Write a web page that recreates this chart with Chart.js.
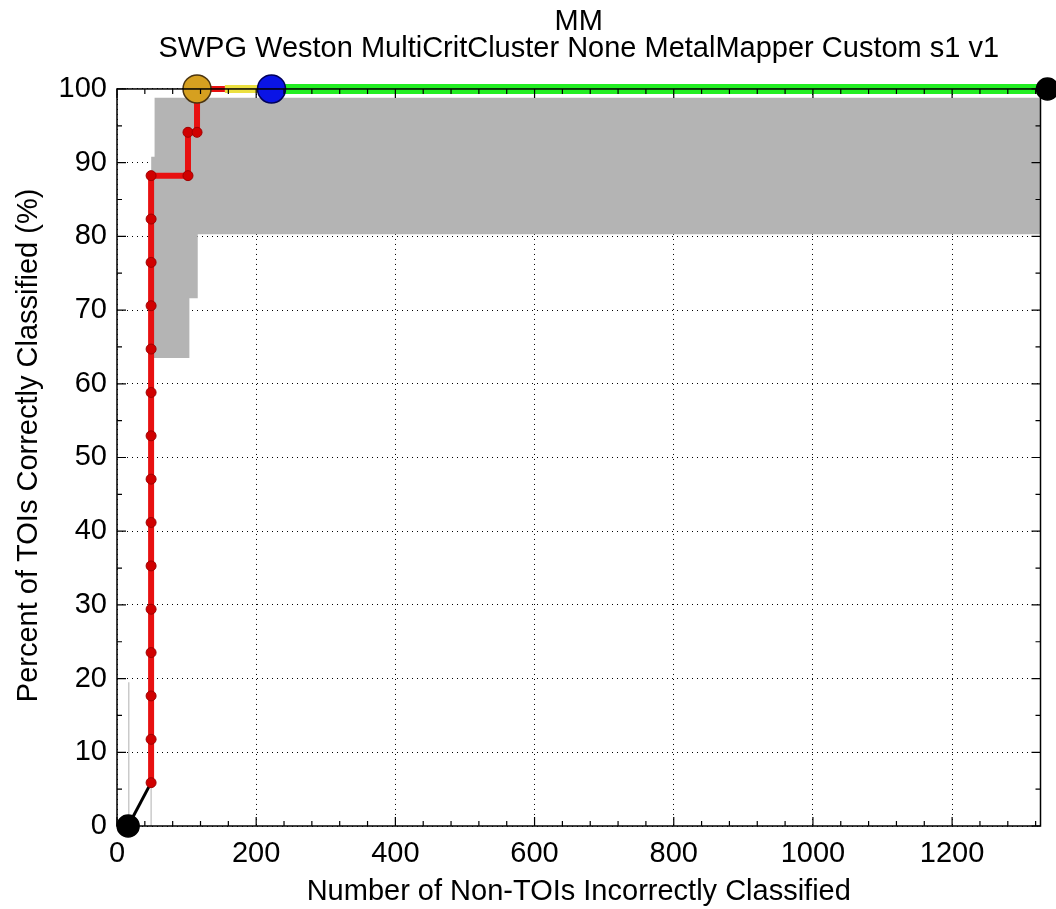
<!DOCTYPE html>
<html>
<head>
<meta charset="utf-8">
<script src="https://cdn.jsdelivr.net/npm/chart.js@4.4.0/dist/chart.umd.min.js"></script>
<style>
  body { margin: 0; background: #fff; }
  #graficoRoc { display: block; }
</style>
</head>
<body>
<canvas id="graficoRoc" width="1056" height="909"></canvas>
<script>
const titulo = ['MM', 'SWPG Weston MultiCritCluster None MetalMapper Custom s1 v1'];
const xTitulo = 'Number of Non-TOIs Incorrectly Classified';
const yTitulo = '   Percent of TOIs Correctly Classified (%)';

const xTicks = [0, 200, 400, 600, 800, 1000, 1200];
const yTicks = [0, 10, 20, 30, 40, 50, 60, 70, 80, 90, 100];
const xMax = 1327;

// curva vermelha (degraus)
const vermelhoX = [49, 49, 49, 49, 49, 49, 49, 49, 49, 49, 49, 49, 49, 49, 49, 102, 102, 115, 115, 155];
const vermelhoY = [5.88, 11.76, 17.65, 23.53, 29.41, 35.29, 41.18, 47.06, 52.94, 58.82, 64.71, 70.59, 76.47, 82.35, 88.24, 88.24, 94.12, 94.12, 100, 100];

const amareloX = [155, 222];
const amareloY = [100, 100];
const verdeX = [222, 1337];
const verdeY = [100, 100];

const pretoX = [16, 49];
const pretoY = [0, 5.88];

const cinzaLinhaX = [17, 17, NaN, 49, 49];
const cinzaLinhaY = [0, 19.5, NaN, 0, 5.3];

// faixa cinza (limites inferior e superior)
const faixaInfX = [49, 104, 104.01, 116, 116.01, 1327];
const faixaInfY = [63.5, 63.5, 71.6, 71.6, 80.3, 80.3];
const faixaSupX = [49, 54, 54.01, 1327];
const faixaSupY = [90.8, 90.8, 98.8, 98.8];

const marcPretoX = [16, 1337];
const marcPretoY = [0, 100];
const marcLaranjaX = [115];
const marcLaranjaY = [100];
const marcAzulX = [222];
const marcAzulY = [100];

const fonte = "'Liberation Sans', Arial, sans-serif";

const pontos = (xs, ys) => xs.map((x, i) => ({ x: x, y: ys[i] }));

const linha = (xs, ys, cor, largura, ordem) => ({
  data: pontos(xs, ys),
  showLine: true,
  borderColor: cor,
  backgroundColor: cor,
  borderWidth: largura,
  pointRadius: 0,
  clip: false,
  order: ordem
});

const marcador = (xs, ys, cor, borda, raio, ordem) => ({
  data: pontos(xs, ys),
  showLine: false,
  backgroundColor: cor,
  borderColor: borda,
  borderWidth: 1.5,
  pointRadius: raio,
  clip: false,
  order: ordem
});

const caixaPlugin = {
  id: 'caixa',
  afterDraw(chart) {
    const { ctx, chartArea: a, scales: { x, y } } = chart;
    ctx.save();
    ctx.strokeStyle = '#000';
    ctx.lineWidth = 1.5;
    ctx.strokeRect(a.left, a.top, a.right - a.left, a.bottom - a.top);
    ctx.lineWidth = 1.2;
    ctx.beginPath();
    for (let v = 0; v <= xMax; v += 40) {
      const px = x.getPixelForValue(v);
      const len = v % 200 === 0 ? 9 : 5;
      ctx.moveTo(px, a.bottom); ctx.lineTo(px, a.bottom - len);
      ctx.moveTo(px, a.top); ctx.lineTo(px, a.top + len);
    }
    for (let v = 0; v <= 100; v += 5) {
      const py = y.getPixelForValue(v);
      const len = v % 10 === 0 ? 9 : 5;
      ctx.moveTo(a.left, py); ctx.lineTo(a.left + len, py);
      ctx.moveTo(a.right, py); ctx.lineTo(a.right - len, py);
    }
    ctx.stroke();
    ctx.restore();
  }
};

const gerarGrafico = () => {
  const faixaInf = linha(faixaInfX, faixaInfY, 'rgba(0,0,0,0)', 0, 20);
  faixaInf.fill = '+1';
  faixaInf.backgroundColor = 'rgb(180,180,180)';
  faixaInf.clip = true;
  const faixaSup = linha(faixaSupX, faixaSupY, 'rgba(0,0,0,0)', 0, 19);
  faixaSup.clip = true;

  const vermelho = linha(vermelhoX, vermelhoY, '#e81010', 6, 4);
  vermelho.pointRadius = ctx => ctx.dataIndex < 18 ? 5 : 0;
  vermelho.pointBackgroundColor = '#d00000';
  vermelho.pointBorderColor = '#a00000';
  vermelho.pointBorderWidth = 1;

  const datasets = [
    faixaInf,
    faixaSup,
    linha(cinzaLinhaX, cinzaLinhaY, '#b0b0b0', 1, 18),
    linha(pretoX, pretoY, '#000', 3, 17),
    linha(verdeX, verdeY, '#22ee22', 10, 7),
    linha(amareloX, amareloY, '#ece040', 8, 6),
    vermelho,
    marcador(marcPretoX, marcPretoY, '#000', '#000', 11, 3),
    marcador(marcLaranjaX, marcLaranjaY, '#d6a020', '#4a3410', 14, 2),
    marcador(marcAzulX, marcAzulY, '#0a14e6', '#00005a', 14, 1)
  ];

  const ctx = document.getElementById('graficoRoc').getContext('2d');
  new Chart(ctx, {
    type: 'scatter',
    data: { datasets: datasets },
    plugins: [caixaPlugin],
    options: {
      responsive: false,
      animation: false,
      devicePixelRatio: 1,
      layout: { padding: { left: 0, right: 12, top: 0, bottom: 0 } },
      plugins: {
        legend: { display: false },
        tooltip: { enabled: false },
        title: {
          display: true,
          text: titulo,
          fullSize: false,
          color: '#000',
          font: { family: fonte, size: 29, weight: 'normal', lineHeight: 0.92 },
          padding: { top: 9, bottom: 26.6 }
        }
      },
      scales: {
        x: {
          type: 'linear',
          min: 0,
          max: xMax,
          afterBuildTicks: s => { s.ticks = xTicks.map(v => ({ value: v })); },
          afterFit: s => { s.height = 83; },
          grid: { color: '#000', lineWidth: 1, drawTicks: false, borderDash: [1, 4] },
          border: { display: false, dash: [1, 4] },
          ticks: {
            color: '#000', padding: 11, autoSkip: false, maxRotation: 0,
            font: { family: fonte, size: 29 },
            callback: v => String(v)
          },
          title: {
            display: true, text: xTitulo, color: '#000',
            font: { family: fonte, size: 29 }, padding: { top: 0, bottom: 0 }
          }
        },
        y: {
          type: 'linear',
          min: 0,
          max: 100,
          afterBuildTicks: s => { s.ticks = yTicks.map(v => ({ value: v })); },
          afterFit: s => { s.width = 117; },
          grid: { color: '#000', lineWidth: 1, drawTicks: false, borderDash: [1, 4] },
          border: { display: false, dash: [1, 4] },
          ticks: {
            color: '#000', padding: 10, autoSkip: false,
            font: { family: fonte, size: 29 },
            callback: v => String(v)
          },
          title: {
            display: true, text: yTitulo, color: '#000',
            font: { family: fonte, size: 29 }, padding: { top: 12, bottom: 0 }
          }
        }
      }
    }
  });
};

window.onload = () => {
  gerarGrafico();
};
</script>
</body>
</html>
